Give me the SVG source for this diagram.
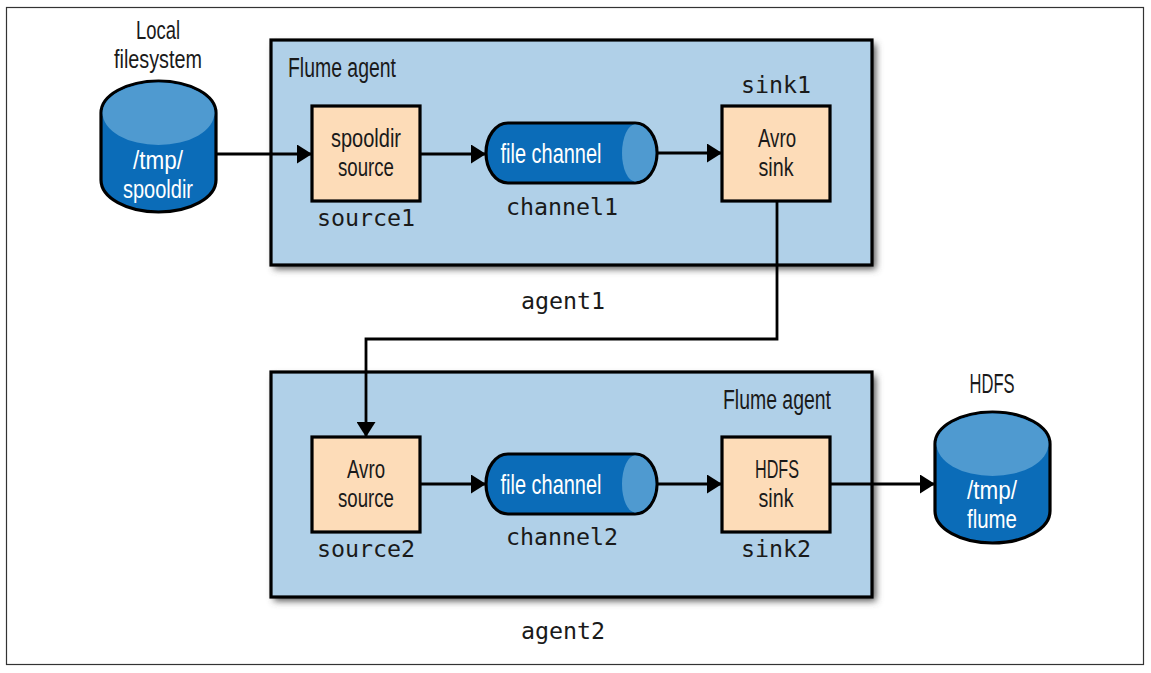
<svg xmlns="http://www.w3.org/2000/svg" width="1151" height="673" viewBox="0 0 1151 673">
<style>
.t{font-family:"Liberation Sans",Arial,sans-serif;font-size:25px;fill:#1a1a1a;text-anchor:middle}
.s{font-size:27px}
.w{fill:#fff}
.m{font-family:"DejaVu Sans Mono","Liberation Mono",monospace;font-size:23.300px;fill:#1a1a1a;text-anchor:middle}
.agent{fill:#b0d0e8;stroke:#000;stroke-width:3.200}
.box{fill:#fddcb8;stroke:#000;stroke-width:3.200}
.body{fill:#0b6cb8;stroke:#000;stroke-width:3.200}
.top{fill:#4f9ad0}
.conn{fill:none;stroke:#000;stroke-width:2.800}
</style>
<defs>
<marker id="arrow" markerUnits="userSpaceOnUse" markerWidth="16" markerHeight="19" refX="15" refY="9.500" orient="auto"><path d="M0 0L15 9.500L0 19Z" fill="#000"/></marker>
<filter id="shadow" x="-5%" y="-5%" width="110%" height="115%"><feGaussianBlur stdDeviation="3.500"/></filter>
</defs>
<rect width="1151" height="673" fill="#fff"/>
<rect x="6.500" y="7.500" width="1137" height="657" fill="#fff" stroke="#333" stroke-width="1.200"/>
<g id="agent1">
<rect x="274" y="44" width="602" height="225" fill="#555" filter="url(#shadow)"/>
<rect class="agent" x="271" y="40" width="601" height="225"/>
<text class="t s" x="342" y="77" textLength="108" lengthAdjust="spacingAndGlyphs">Flume agent</text>
<text class="m" x="563" y="309">agent1</text>
</g>
<g id="agent2">
<rect x="274" y="376" width="602" height="225" fill="#555" filter="url(#shadow)"/>
<rect class="agent" x="271" y="372" width="601" height="225"/>
<text class="t s" x="777" y="409" textLength="108" lengthAdjust="spacingAndGlyphs">Flume agent</text>
<text class="m" x="563" y="639">agent2</text>
</g>
<g id="connectors">
<path class="conn" d="M216 154H312" marker-end="url(#arrow)"/>
<path class="conn" d="M420 154H486" marker-end="url(#arrow)"/>
<path class="conn" d="M657 153H722" marker-end="url(#arrow)"/>
<path class="conn" d="M777 200V339H366V437" marker-end="url(#arrow)"/>
<path class="conn" d="M420 484H486" marker-end="url(#arrow)"/>
<path class="conn" d="M657 484H722" marker-end="url(#arrow)"/>
<path class="conn" d="M830 484H935" marker-end="url(#arrow)"/>
</g>
<g id="filesystem">
<text class="t" x="158" y="39" textLength="44" lengthAdjust="spacingAndGlyphs">Local</text>
<text class="t" x="158" y="68" textLength="88" lengthAdjust="spacingAndGlyphs">filesystem</text>
<path class="body" d="M101 113A57.500 32 0 0 1 216 113V180A57.500 32 0 0 1 101 180Z"/>
<path class="top" d="M102.600 113A55.900 30.400 0 0 1 214.400 113A55.900 32 0 0 1 102.600 113Z"/>
<text class="t w" x="158" y="169" textLength="50" lengthAdjust="spacingAndGlyphs">/tmp/</text>
<text class="t w" x="158" y="198" textLength="70" lengthAdjust="spacingAndGlyphs">spooldir</text>
</g>
<g id="source1">
<rect class="box" x="312" y="106" width="108" height="95"/>
<text class="t" x="366" y="147" textLength="70" lengthAdjust="spacingAndGlyphs">spooldir</text>
<text class="t" x="366" y="176" textLength="56" lengthAdjust="spacingAndGlyphs">source</text>
<text class="m" x="366" y="226">source1</text>
</g>
<g id="channel1">
<path class="body" d="M508 123H635A22 30 0 0 1 635 183H508A22 30 0 0 1 508 123Z"/>
<path class="top" d="M635 124.600A20.400 28.400 0 0 1 635 181.400A13 28.400 0 0 1 635 124.600Z"/>
<text class="t s w" x="551" y="163" textLength="101" lengthAdjust="spacingAndGlyphs">file channel</text>
<text class="m" x="562" y="215">channel1</text>
</g>
<g id="sink1">
<rect class="box" x="722" y="106" width="108" height="95"/>
<text class="t" x="777" y="147" textLength="38" lengthAdjust="spacingAndGlyphs">Avro</text>
<text class="t" x="776" y="176" textLength="35" lengthAdjust="spacingAndGlyphs">sink</text>
<text class="m" x="776" y="93">sink1</text>
</g>
<g id="source2">
<rect class="box" x="312" y="437" width="108" height="95"/>
<text class="t" x="366" y="478" textLength="38" lengthAdjust="spacingAndGlyphs">Avro</text>
<text class="t" x="366" y="507" textLength="56" lengthAdjust="spacingAndGlyphs">source</text>
<text class="m" x="366" y="557">source2</text>
</g>
<g id="channel2">
<path class="body" d="M508 454H635A22 30 0 0 1 635 514H508A22 30 0 0 1 508 454Z"/>
<path class="top" d="M635 455.600A20.400 28.400 0 0 1 635 512.400A13 28.400 0 0 1 635 455.600Z"/>
<text class="t s w" x="551" y="494" textLength="101" lengthAdjust="spacingAndGlyphs">file channel</text>
<text class="m" x="562" y="545">channel2</text>
</g>
<g id="sink2">
<rect class="box" x="722" y="437" width="108" height="95"/>
<text class="t" x="777" y="478" textLength="44" lengthAdjust="spacingAndGlyphs">HDFS</text>
<text class="t" x="776" y="507" textLength="35" lengthAdjust="spacingAndGlyphs">sink</text>
<text class="m" x="776" y="557">sink2</text>
</g>
<g id="hdfs">
<text class="t s" x="992" y="393" textLength="45" lengthAdjust="spacingAndGlyphs">HDFS</text>
<path class="body" d="M935 444A57.500 32 0 0 1 1050 444V511A57.500 32 0 0 1 935 511Z"/>
<path class="top" d="M936.600 444A55.900 30.400 0 0 1 1048.400 444A55.900 32 0 0 1 936.600 444Z"/>
<text class="t w" x="992" y="499" textLength="50" lengthAdjust="spacingAndGlyphs">/tmp/</text>
<text class="t w" x="992" y="528" textLength="50" lengthAdjust="spacingAndGlyphs">flume</text>
</g>
</svg>
